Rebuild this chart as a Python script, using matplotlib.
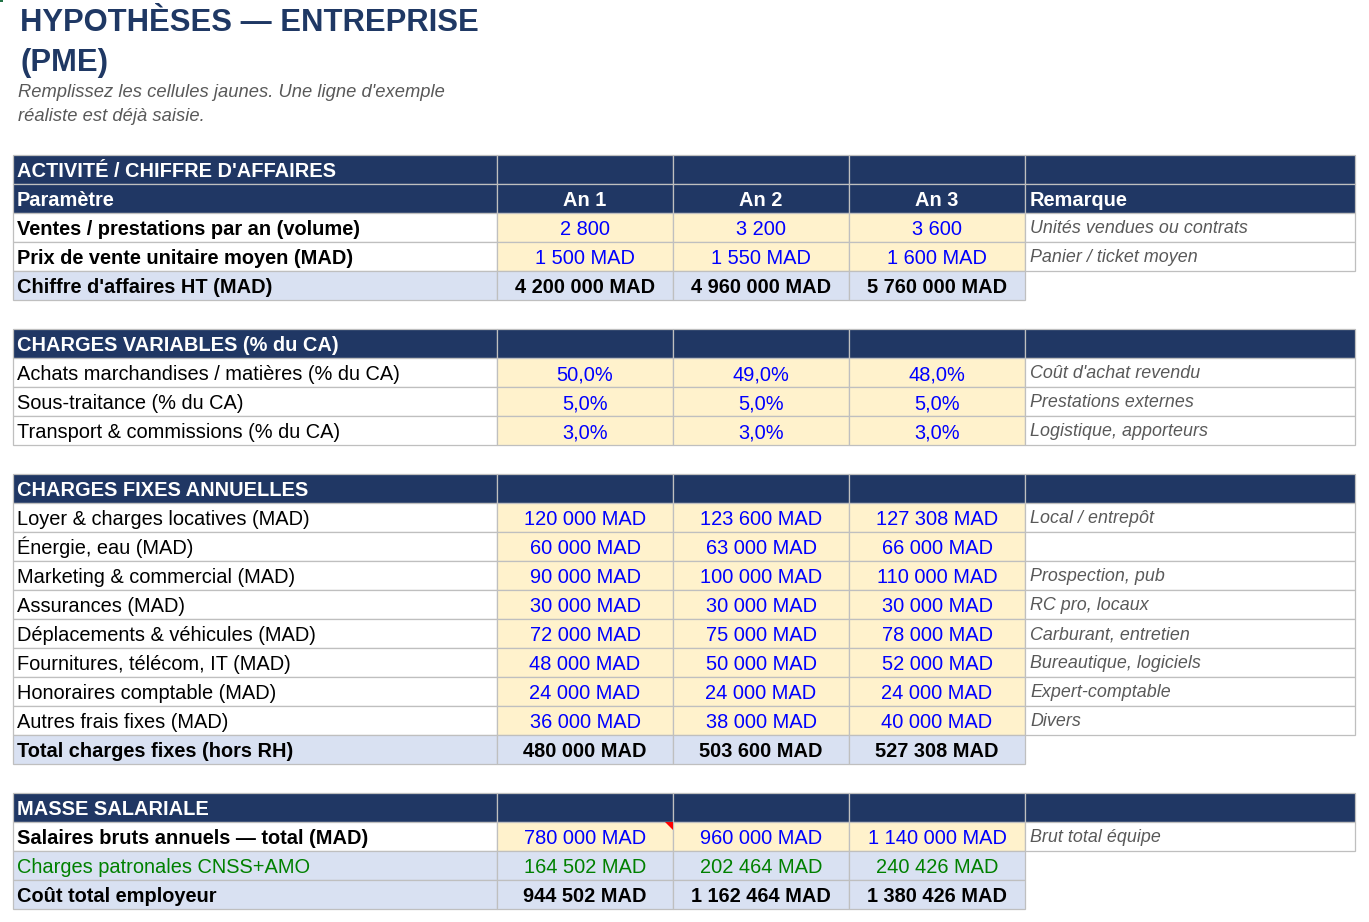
import matplotlib
matplotlib.use('Agg')
import matplotlib.pyplot as plt
from matplotlib.patches import Rectangle, Polygon

plt.rcParams['font.family'] = ['Liberation Sans', 'DejaVu Sans']

# =============================================================================
# DATA
# =============================================================================

title_lines = ['HYPOTHÈSES — ENTREPRISE', '(PME)']
subtitle_lines = ['Remplissez les cellules jaunes. Une ligne d\'exemple',
                  'réaliste est déjà saisie.']

years = ['An 1', 'An 2', 'An 3']

# activite / chiffre d'affaires
ventes_volume = [2800, 3200, 3600]
prix_unitaire = [1500, 1550, 1600]
chiffre_affaires = [4200000, 4960000, 5760000]

# charges variables (% du CA)
achats_pct = [50.0, 49.0, 48.0]
sous_traitance_pct = [5.0, 5.0, 5.0]
transport_pct = [3.0, 3.0, 3.0]

# charges fixes annuelles (MAD)
fixes_labels = ['Loyer & charges locatives (MAD)', 'Énergie, eau (MAD)',
                'Marketing & commercial (MAD)', 'Assurances (MAD)',
                'Déplacements & véhicules (MAD)', 'Fournitures, télécom, IT (MAD)',
                'Honoraires comptable (MAD)', 'Autres frais fixes (MAD)']
fixes_remarks = ['Local / entrepôt', '', 'Prospection, pub', 'RC pro, locaux',
                 'Carburant, entretien', 'Bureautique, logiciels',
                 'Expert-comptable', 'Divers']
loyer = [120000, 123600, 127308]
energie = [60000, 63000, 66000]
marketing = [90000, 100000, 110000]
assurances = [30000, 30000, 30000]
deplacements = [72000, 75000, 78000]
fournitures = [48000, 50000, 52000]
honoraires = [24000, 24000, 24000]
autres_fixes = [36000, 38000, 40000]
total_fixes = [480000, 503600, 527308]

# masse salariale (MAD)
salaires_bruts = [780000, 960000, 1140000]
charges_patronales = [164502, 202464, 240426]
cout_employeur = [944502, 1162464, 1380426]

# =============================================================================
# STYLE
# =============================================================================

navy = '#203764'
title_col = '#1F3864'
yellow = '#FFF2CC'
lightblue = '#D9E1F2'
grid_col = '#BFBFBF'
blue = '#0000FF'
green = '#008000'
remark_col = '#595959'

col_edges = [13, 497, 673, 849, 1025, 1355]
table_top = 155
row_h = 29
base_off = 22
remark_off = 20
fs_body = 14.4
fs_remark = 12.9


def mad(v):
    return '{:,}'.format(v).replace(',', ' ') + ' MAD'


def num(v):
    return '{:,}'.format(v).replace(',', ' ')


def pct(v):
    return '{:.1f}%'.format(v).replace('.', ',')


# row spec: (kind, label, values, remark, label_bold, value colour)
rows = []
rows.append(('section', "ACTIVITÉ / CHIFFRE D'AFFAIRES", None, '', True, None))
rows.append(('colhead', 'Paramètre', years, 'Remarque', True, None))
rows.append(('input', 'Ventes / prestations par an (volume)',
             [num(v) for v in ventes_volume], 'Unités vendues ou contrats', True, blue))
rows.append(('input', 'Prix de vente unitaire moyen (MAD)',
             [mad(v) for v in prix_unitaire], 'Panier / ticket moyen', True, blue))
rows.append(('total', "Chiffre d'affaires HT (MAD)",
             [mad(v) for v in chiffre_affaires], None, True, 'black'))
rows.append(('blank', '', None, None, False, None))
rows.append(('section', 'CHARGES VARIABLES (% du CA)', None, '', True, None))
rows.append(('input', 'Achats marchandises / matières (% du CA)',
             [pct(v) for v in achats_pct], "Coût d'achat revendu", False, blue))
rows.append(('input', 'Sous-traitance (% du CA)',
             [pct(v) for v in sous_traitance_pct], 'Prestations externes', False, blue))
rows.append(('input', 'Transport & commissions (% du CA)',
             [pct(v) for v in transport_pct], 'Logistique, apporteurs', False, blue))
rows.append(('blank', '', None, None, False, None))
rows.append(('section', 'CHARGES FIXES ANNUELLES', None, '', True, None))
fixes_values = [loyer, energie, marketing, assurances, deplacements,
                fournitures, honoraires, autres_fixes]
for lab, vals, rem in zip(fixes_labels, fixes_values, fixes_remarks):
    rows.append(('input', lab, [mad(v) for v in vals], rem, False, blue))
rows.append(('total', 'Total charges fixes (hors RH)',
             [mad(v) for v in total_fixes], None, True, 'black'))
rows.append(('blank', '', None, None, False, None))
rows.append(('section', 'MASSE SALARIALE', None, '', True, None))
rows.append(('input', 'Salaires bruts annuels — total (MAD)',
             [mad(v) for v in salaires_bruts], 'Brut total équipe', True, blue))
rows.append(('calc', 'Charges patronales CNSS+AMO',
             [mad(v) for v in charges_patronales], None, False, green))
rows.append(('total', 'Coût total employeur',
             [mad(v) for v in cout_employeur], None, True, 'black'))

# =============================================================================
# PLOT
# =============================================================================

fig = plt.figure(figsize=(13.69, 9.22), dpi=100)
ax = fig.add_axes([0, 0, 1, 1])
ax.set_xlim(0, 1369)
ax.set_ylim(922, 0)
ax.axis('off')

# title block
ax.text(20, 31, title_lines[0], fontsize=22.3, fontweight='bold', color=title_col)
ax.text(20, 71, title_lines[1], fontsize=22.3, fontweight='bold', color=title_col)
ax.text(18, 97, subtitle_lines[0], fontsize=13.2, style='italic', color=remark_col)
ax.text(18, 121, subtitle_lines[1], fontsize=13.2, style='italic', color=remark_col)

# little selection marker in the corner
ax.add_patch(Rectangle((0, 0), 3, 2.5, facecolor='#217346', edgecolor='none'))


def cell(c, r, face, border=True):
    x0 = col_edges[c]
    w = col_edges[c + 1] - x0
    y0 = table_top + r * row_h
    ax.add_patch(Rectangle((x0, y0), w, row_h, facecolor=face,
                           edgecolor=grid_col if border else 'none', lw=0.9, zorder=1))


for r, (kind, label, values, remark, bold, vcol) in enumerate(rows):
    y0 = table_top + r * row_h
    yb = y0 + base_off
    if kind == 'blank':
        continue
    if kind in ('section', 'colhead'):
        for c in range(5):
            cell(c, r, navy)
        ax.text(col_edges[0] + 4, yb, label, fontsize=fs_body, fontweight='bold',
                color='white', zorder=3)
        if kind == 'colhead':
            for c, v in enumerate(values):
                xc = (col_edges[c + 1] + col_edges[c + 2]) / 2
                ax.text(xc, yb, v, fontsize=fs_body, fontweight='bold',
                        color='white', ha='center', zorder=3)
            ax.text(col_edges[4] + 5, yb, remark, fontsize=fs_body,
                    fontweight='bold', color='white', zorder=3)
        continue

    label_face = 'white' if kind == 'input' else lightblue
    value_face = yellow if kind == 'input' else lightblue
    label_col = green if kind == 'calc' else 'black'
    cell(0, r, label_face)
    for c in range(3):
        cell(c + 1, r, value_face)
    if remark is not None:
        cell(4, r, 'white')
        ax.text(col_edges[4] + 5, y0 + remark_off, remark, fontsize=fs_remark,
                style='italic', color=remark_col, zorder=3)

    ax.text(col_edges[0] + 4, yb, label, fontsize=fs_body,
            fontweight='bold' if bold else 'normal', color=label_col, zorder=3)
    for c, v in enumerate(values):
        xc = (col_edges[c + 1] + col_edges[c + 2]) / 2
        ax.text(xc, yb, v, fontsize=fs_body,
                fontweight='bold' if kind == 'total' else 'normal',
                color=vcol, ha='center', zorder=3)

# comment marker on the first salary cell
r_sal = [i for i, row in enumerate(rows) if row[1].startswith('Salaires')][0]
xr = col_edges[2]
yt = table_top + r_sal * row_h
ax.add_patch(Polygon([(xr - 8, yt), (xr, yt), (xr, yt + 8)], closed=True,
                     facecolor='#FF0000', edgecolor='none', zorder=4))

plt.savefig('out.png', dpi=100)
